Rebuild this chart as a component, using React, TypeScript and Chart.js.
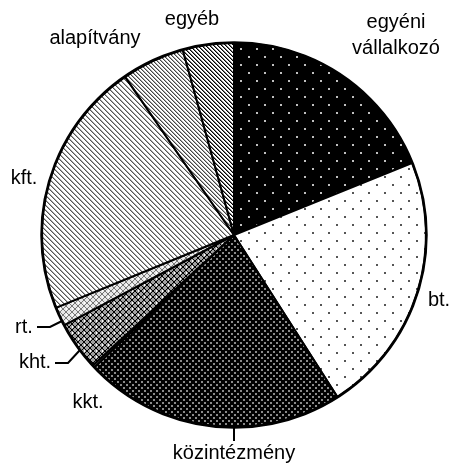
import React, { useEffect, useRef } from "react";
import { Chart, registerables } from "chart.js";

Chart.register(...registerables);

const categories = [
  "egyéni vállalkozó",
  "bt.",
  "közintézmény",
  "kkt.",
  "kht.",
  "rt.",
  "kft.",
  "alapítvány",
  "egyéb",
];
const values = [18.9, 22.1, 22.0, 0.2, 4.1, 1.6, 21.6, 5.3, 4.3];
const labelLines = [
  ["egyéni", "vállalkozó"],
  ["bt."],
  ["közintézmény"],
  ["kkt."],
  ["kht."],
  ["rt."],
  ["kft."],
  ["alapítvány"],
  ["egyéb"],
];
// label text centers (layout only)
const labelPos: [number, number][] = [
  [396, 22],
  [439, 300],
  [234, 453],
  [88, 402],
  [35, 362],
  [24, 327],
  [24, 178],
  [95, 38],
  [192, 19],
];
// leader lines (layout only)
const leaders: Record<number, [number, number][]> = {
  5: [[37, 327], [50, 327], [62, 321]],
  4: [[55, 363], [68, 363], [80, 350]],
  2: [[234, 428], [234, 441]],
};

function makePattern(w: number, h: number, draw: (c: CanvasRenderingContext2D) => void) {
  const cv = document.createElement("canvas");
  cv.width = w;
  cv.height = h;
  const c = cv.getContext("2d")!;
  draw(c);
  const tmp = document.createElement("canvas").getContext("2d")!;
  return tmp.createPattern(cv, "repeat")!;
}

function buildPatterns() {
  const dotsOn = (bg: string, fg: string, size: number, step: number, d: number) =>
    makePattern(size, size, (c) => {
      c.fillStyle = bg;
      c.fillRect(0, 0, size, size);
      c.fillStyle = fg;
      c.fillRect(0, 0, d, d);
      c.fillRect(step, step, d, d);
    });
  const stripes = (n: number, dark: string, mid: string, bg: string) =>
    makePattern(n, n, (c) => {
      c.fillStyle = bg;
      c.fillRect(0, 0, n, n);
      for (let i = 0; i < n; i++) {
        c.fillStyle = dark;
        c.fillRect(i, i, 1, 1);
        c.fillStyle = mid;
        c.fillRect((i + 1) % n, i, 1, 1);
      }
    });
  const cross = (n: number, bg: string, fg: string, center: string) =>
    makePattern(n, n, (c) => {
      c.fillStyle = bg;
      c.fillRect(0, 0, n, n);
      for (let i = 0; i < n; i++) {
        c.fillStyle = fg;
        c.fillRect(i, i, 1, 1);
        c.fillRect(n - 1 - i, i, 1, 1);
      }
      c.fillStyle = center;
      c.fillRect(0, Math.floor(n / 2) - 1, 1, 2);
    });
  return [
    dotsOn("#000", "#c0c0c0", 16, 8, 2),
    dotsOn("#fff", "#555", 16, 8, 2),
    dotsOn("#000", "#8a8a8a", 6, 3, 2),
    "#777",
    cross(6, "#a0a0a0", "#000", "#fff"),
    cross(6, "#e8e8e8", "#777", "#fff"),
    stripes(5, "#555", "#aaa", "#fff"),
    stripes(4, "#444", "#aaa", "#fff"),
    stripes(4, "#000", "#777", "#fff"),
  ];
}

const labelPlugin = {
  id: "outLabels",
  afterDatasetsDraw(chart: any) {
    const arc = chart.getDatasetMeta(0).data[0];
    if (!arc) return;
    const ctx = chart.ctx;
    ctx.save();
    ctx.strokeStyle = "#000";
    ctx.lineWidth = 2.5;
    ctx.beginPath();
    ctx.arc(arc.x, arc.y, arc.outerRadius + 0.5, 0, Math.PI * 2);
    ctx.stroke();
    ctx.restore();
  },
  afterDraw(chart: any) {
    const ctx = chart.ctx;
    ctx.save();
    ctx.strokeStyle = "#000";
    ctx.lineWidth = 2;
    Object.values(leaders).forEach((pts) => {
      ctx.beginPath();
      pts.forEach(([x, y], i) => (i === 0 ? ctx.moveTo(x, y) : ctx.lineTo(x, y)));
      ctx.stroke();
    });
    ctx.fillStyle = "#000";
    ctx.font = "20px 'Liberation Sans', Arial, sans-serif";
    ctx.textAlign = "center";
    ctx.textBaseline = "middle";
    labelLines.forEach((lines, i) => {
      const [x, y] = labelPos[i];
      lines.forEach((t, j) => ctx.fillText(t, x, y + j * 26));
    });
    ctx.restore();
  },
};

export default function App() {
  const ref = useRef<HTMLCanvasElement>(null);
  useEffect(() => {
    const patterns = buildPatterns();
    const chart = new Chart(ref.current!, {
      type: "pie",
      data: {
        labels: categories,
        datasets: [
          {
            data: values,
            backgroundColor: patterns as any,
            borderColor: "#000",
            borderWidth: 2,
          },
        ],
      },
      options: {
        responsive: false,
        animation: false,
        devicePixelRatio: 1,
        layout: { padding: { left: 41, right: 25, top: 42, bottom: 37 } },
        plugins: { legend: { display: false }, tooltip: { enabled: false } },
      },
      plugins: [labelPlugin],
    });
    return () => chart.destroy();
  }, []);
  return (
    <div style={{ position: "absolute", left: 0, top: 0, width: 452, height: 465, background: "#fff" }}>
      <canvas ref={ref} width={452} height={465} />
    </div>
  );
}
